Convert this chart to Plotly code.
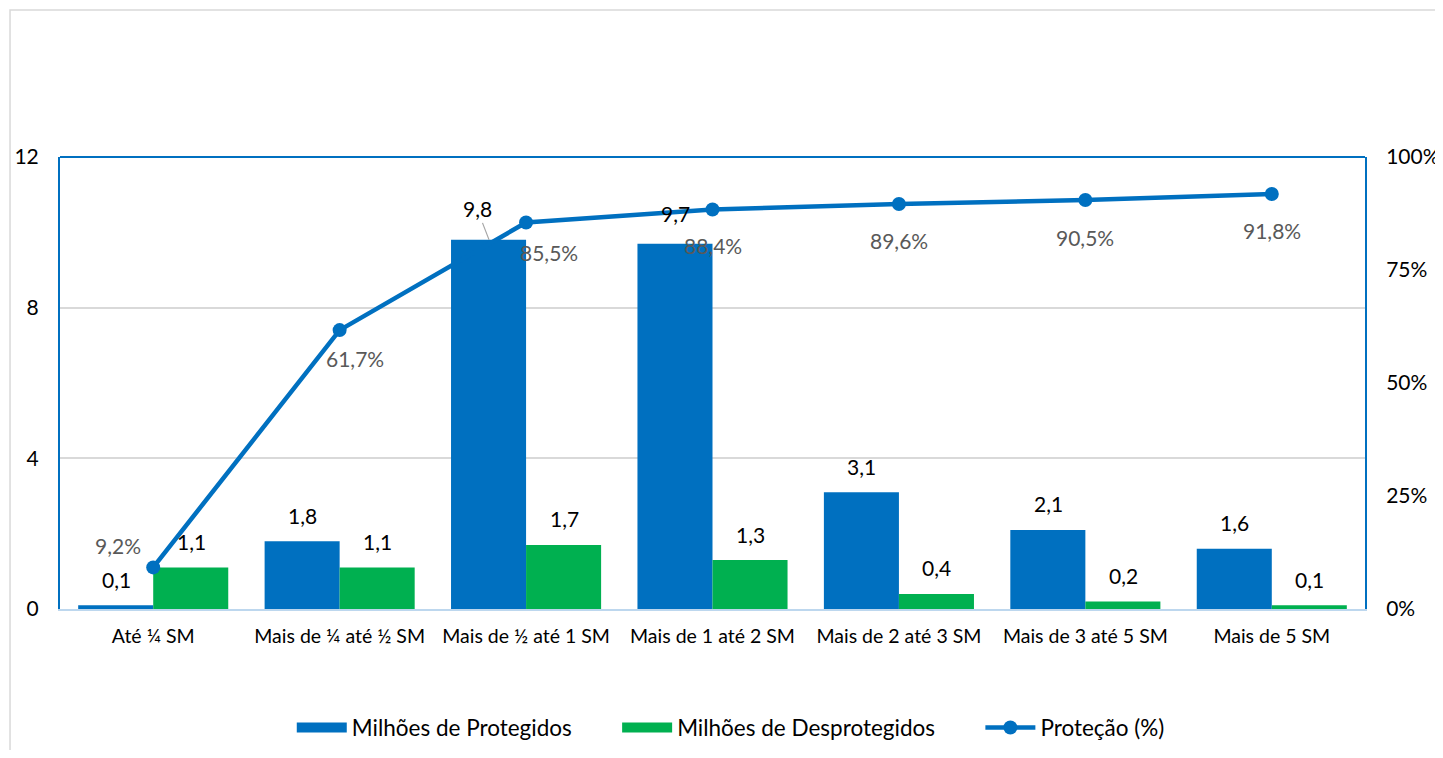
import plotly.graph_objects as go

categories = ["Até ¼ SM", "Mais de ¼ até ½ SM", "Mais de ½ até 1 SM", "Mais de 1 até 2 SM",
              "Mais de 2 até 3 SM", "Mais de 3 até 5 SM", "Mais de 5 SM"]
protegidos = [0.1, 1.8, 9.8, 9.7, 3.1, 2.1, 1.6]
desprotegidos = [1.1, 1.1, 1.7, 1.3, 0.4, 0.2, 0.1]
protecao = [9.2, 61.7, 85.5, 88.4, 89.6, 90.5, 91.8]
left_ticks = [0, 4, 8, 12]
right_ticks = [0, 25, 50, 75, 100]

BLUE = "#0070C0"
GREEN = "#00B050"
FONT = "Lato, 'Open Sans', sans-serif"

# label offsets (pixels) for percent labels
pct_dx = [-35, 15, 23, 0, 0, 0, 0]
pct_dy = [23, -27, -29, -35, -35, -37, -35]

def br(v):
    return f"{v:.1f}".replace(".", ",")

PAD = "\u00a0" * 7

fig = go.Figure()
fig.add_trace(go.Bar(x=categories, y=protegidos, name="Milhões de Protegidos",
                     marker=dict(color=BLUE, line=dict(width=0)), offsetgroup="a",
                     showlegend=False))
fig.add_trace(go.Bar(x=categories, y=desprotegidos, name="Milhões de Desprotegidos",
                     marker=dict(color=GREEN, line=dict(width=0)), offsetgroup="b",
                     showlegend=False))
fig.add_trace(go.Scatter(x=categories, y=[p / 100 for p in protecao], name="Proteção (%)",
                         yaxis="y2", mode="lines+markers",
                         line=dict(color=BLUE, width=4.5),
                         marker=dict(color=BLUE, size=14), showlegend=False))
# legend entries
fig.add_trace(go.Scatter(x=[None], y=[None], name="Milhões de Protegidos" + PAD, mode="lines",
                         line=dict(color=BLUE, width=15)))
fig.add_trace(go.Scatter(x=[None], y=[None], name="Milhões de Desprotegidos" + PAD, mode="lines",
                         line=dict(color=GREEN, width=15)))
fig.add_trace(go.Scatter(x=[None], y=[None], name="Proteção (%)", mode="lines+markers",
                         line=dict(color=BLUE, width=4.5), marker=dict(color=BLUE, size=14)))

LBL = 21
annotations = []
for i, c in enumerate(categories):
    if i == 2:
        annotations.append(dict(x=c, y=protegidos[i], xref="x", yref="y", text=br(protegidos[i]),
                                showarrow=True, arrowhead=0, arrowwidth=1.2, arrowcolor="#A6A6A6",
                                ax=-12, ay=-31, xshift=-37, standoff=0,
                                font=dict(family=FONT, size=LBL, color="#000000")))
    else:
        annotations.append(dict(x=c, y=protegidos[i], xref="x", yref="y", text=br(protegidos[i]),
                                showarrow=False, xshift=-37, yshift=26 if i != 3 else 30,
                                font=dict(family=FONT, size=LBL, color="#000000")))
    annotations.append(dict(x=c, y=desprotegidos[i], xref="x", yref="y", text=br(desprotegidos[i]),
                            showarrow=False, xshift=38, yshift=26,
                            font=dict(family=FONT, size=LBL, color="#000000")))
    annotations.append(dict(x=c, y=protecao[i] / 100, xref="x", yref="y2",
                            text=br(protecao[i]) + "%", showarrow=False,
                            xshift=pct_dx[i], yshift=pct_dy[i] - 1,
                            font=dict(family=FONT, size=LBL, color="#595959")))

shapes = [
    # outer frame
    dict(type="rect", xref="paper", yref="paper", x0=-0.0383, x1=1.2, y0=-0.5, y1=1.3252,
         line=dict(color="#D9D9D9", width=1.5), layer="below"),
    # top border of plot area
    dict(type="line", xref="paper", yref="paper", x0=0, x1=1, y0=1, y1=1,
         line=dict(color=BLUE, width=2)),
]

fig.update_layout(
    width=1435, height=742,
    margin=dict(l=52, r=78, t=149, b=141, autoexpand=False),
    paper_bgcolor="white", plot_bgcolor="white",
    barmode="group", bargap=0.195, bargroupgap=0,
    font=dict(family=FONT, size=20, color="#000000"),
    xaxis=dict(showline=True, linecolor="#BDD7EE", linewidth=1.5, showgrid=False, automargin=False,
               ticks="", tickfont=dict(size=19.5, color="#000000"), ticklabelstandoff=9),
    yaxis=dict(range=[0, 12], tickvals=left_ticks, showline=True, linecolor=BLUE, linewidth=2,
               showgrid=True, gridcolor="#D9D9D9", gridwidth=1.5, zeroline=False, automargin=False,
               tickfont=dict(size=21, color="#000000"), ticks="", ticklabelstandoff=15),
    yaxis2=dict(range=[0, 1], overlaying="y", side="right", tickvals=[t / 100 for t in right_ticks],
                ticktext=[f"{t}%" for t in right_ticks], showline=True, linecolor=BLUE, linewidth=2,
                showgrid=False, zeroline=False, automargin=False, tickfont=dict(size=21, color="#000000"),
                ticks="", ticklabelstandoff=15),
    legend=dict(orientation="h", x=0.514, xanchor="center", y=-0.263, yanchor="middle",
                font=dict(size=22.5, color="#000000"), itemwidth=50, tracegroupgap=0,
                traceorder="normal"),
    annotations=annotations,
    shapes=shapes,
)

fig.write_html("out.html")
